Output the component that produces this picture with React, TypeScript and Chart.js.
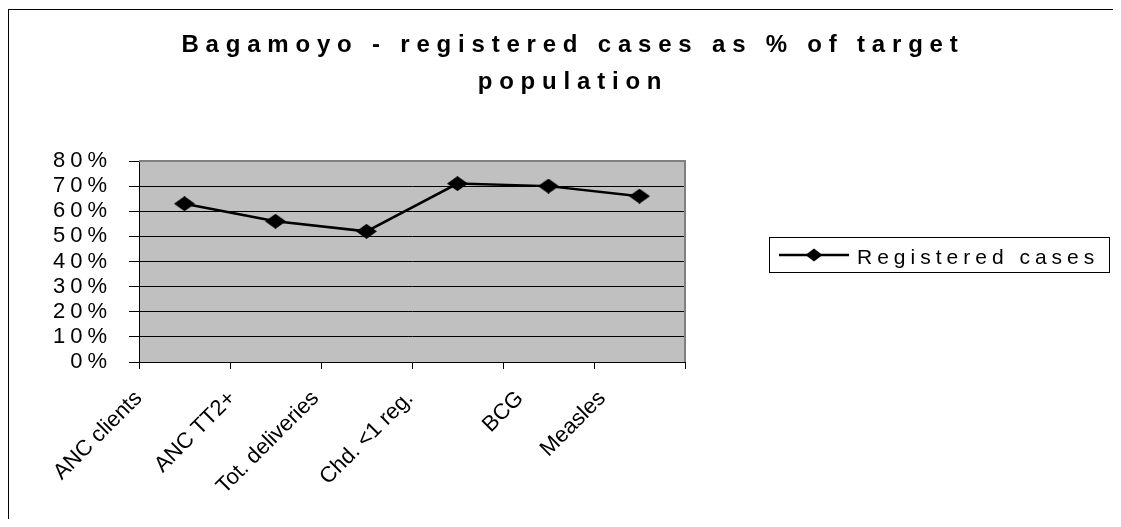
import React, { useEffect, useRef } from 'react';
import { Chart, registerables } from 'chart.js';

Chart.register(...registerables);

const categories = ['ANC clients', 'ANC TT2+', 'Tot. deliveries', 'Chd. <1 reg.', 'BCG', 'Measles'];
const registeredCases = [63, 56, 52, 71, 70, 66];
const seriesName = 'Registered cases';
const titleLines = ['Bagamoyo - registered cases as % of target', 'population'];
const yMin = 0;
const yMax = 80;
const yStep = 10;

const FONT = 'Arial, "Liberation Sans", sans-serif';
const W = 1105;
const H = 511;

export default function App() {
  const ref = useRef<HTMLCanvasElement>(null);

  useEffect(() => {
    const canvas = ref.current;
    if (!canvas) return;

    const marker = document.createElement('canvas');
    marker.width = 21;
    marker.height = 15;
    const mctx = marker.getContext('2d')!;
    mctx.fillStyle = '#000';
    mctx.beginPath();
    mctx.moveTo(10.5, 0);
    mctx.lineTo(21, 7.5);
    mctx.lineTo(10.5, 15);
    mctx.lineTo(0, 7.5);
    mctx.closePath();
    mctx.fill();

    const decor = {
      id: 'decor',
      beforeDraw(chart: any) {
        const { ctx, chartArea: a, width, height } = chart;
        ctx.save();
        ctx.fillStyle = '#fff';
        ctx.fillRect(0, 0, width, height);
        ctx.fillStyle = '#000';
        ctx.fillRect(0, 1, width, 1);
        ctx.fillRect(0, 1, 1, height);
        ctx.fillStyle = '#c0c0c0';
        ctx.fillRect(a.left, a.top, a.right - a.left, a.bottom - a.top);
        ctx.restore();
        (ctx as any).letterSpacing = '5px';
      },
      beforeDatasetsDraw(chart: any) {
        const { ctx, chartArea: a } = chart;
        ctx.save();
        ctx.strokeStyle = '#808080';
        ctx.lineWidth = 2;
        ctx.beginPath();
        ctx.moveTo(a.left, a.top);
        ctx.lineTo(a.right, a.top);
        ctx.lineTo(a.right, a.bottom);
        ctx.stroke();
        ctx.restore();
      },
      afterDraw(chart: any) {
        const { ctx } = chart;
        const xs = chart.scales.x;
        // Title
        ctx.save();
        (ctx as any).letterSpacing = '6.8px';
        ctx.font = `bold 24px ${FONT}`;
        ctx.fillStyle = '#000';
        ctx.textAlign = 'center';
        ctx.textBaseline = 'alphabetic';
        ctx.fillText(titleLines[0], 565, 44);
        ctx.fillText(titleLines[1], 565, 81);
        ctx.restore();

        // Legend
        ctx.save();
        ctx.strokeStyle = '#000';
        ctx.lineWidth = 1;
        ctx.strokeRect(761.5, 229.5, 340, 35);
        ctx.lineWidth = 2.5;
        ctx.beginPath();
        ctx.moveTo(771, 247);
        ctx.lineTo(841, 247);
        ctx.stroke();
        ctx.fillStyle = '#000';
        ctx.beginPath();
        ctx.moveTo(806, 240.5);
        ctx.lineTo(814.5, 247);
        ctx.lineTo(806, 253.5);
        ctx.lineTo(797.5, 247);
        ctx.closePath();
        ctx.fill();
        (ctx as any).letterSpacing = '5px';
        ctx.font = `21px ${FONT}`;
        ctx.textAlign = 'left';
        ctx.textBaseline = 'alphabetic';
        ctx.fillText(seriesName, 849, 256);
        ctx.restore();

        // X labels
        ctx.save();
        (ctx as any).letterSpacing = '0px';
        ctx.font = `22px ${FONT}`;
        ctx.fillStyle = '#000';
        ctx.textAlign = 'right';
        ctx.textBaseline = 'middle';
        categories.forEach((lab, i) => {
          const c = xs.getPixelForValue(i);
          const w = ctx.measureText(lab).width;
          const ex = c - (16 + 0.26 * w);
          ctx.save();
          ctx.translate(ex, 387);
          ctx.rotate(-Math.PI / 4);
          ctx.fillText(lab, 0, 0);
          ctx.restore();
        });
        ctx.restore();
      },
    };

    const chart = new Chart(canvas, {
      type: 'line',
      data: {
        labels: categories,
        datasets: [
          {
            label: seriesName,
            data: registeredCases,
            borderColor: '#000',
            backgroundColor: '#000',
            borderWidth: 2.5,
            pointStyle: marker as any,
            pointRadius: 8,
            tension: 0,
            fill: false,
          },
        ],
      },
      options: {
        responsive: false,
        animation: false,
        events: [],
        layout: { padding: { left: 0, right: 428, top: 153, bottom: 0 } },
        plugins: {
          legend: { display: false },
          title: { display: false },
          tooltip: { enabled: false },
        },
        scales: {
          x: {
            type: 'category',
            offset: true,
            grid: { offset: true, drawOnChartArea: false, drawTicks: true, tickLength: 7, color: '#000' },
            border: { color: '#000', width: 1 },
            ticks: { display: false },
            afterFit: (s: any) => {
              s.height = H - 354;
            },
          },
          y: {
            min: yMin,
            max: yMax,
            ticks: {
              stepSize: yStep,
              autoSkip: false,
              callback: (v: any) => `${v}%`,
              font: { family: FONT, size: 22, lineHeight: 1 },
              color: '#000',
              padding: 17,
            },
            grid: { color: '#000', lineWidth: 1, tickLength: 10 },
            border: { color: '#000', width: 1 },
            afterFit: (s: any) => {
              s.width = 131;
            },
          },
        },
      },
      plugins: [decor],
    });

    return () => chart.destroy();
  }, []);

  return (
    <div style={{ width: W, height: H }}>
      <canvas ref={ref} width={W} height={H} style={{ display: 'block', width: W, height: H }} />
    </div>
  );
}
